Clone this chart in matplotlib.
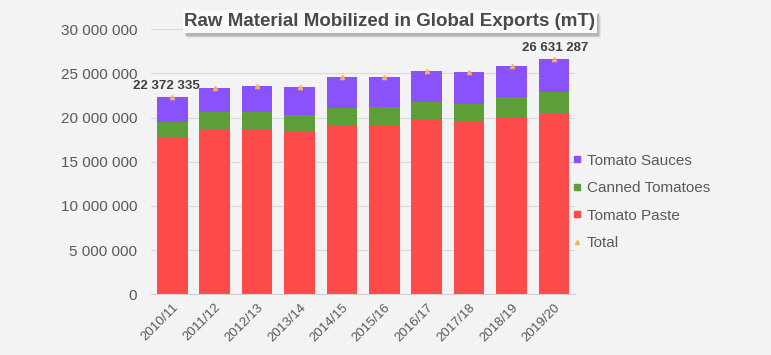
import matplotlib
matplotlib.use("Agg")
import matplotlib.pyplot as plt
from matplotlib.patches import Rectangle
from matplotlib.lines import Line2D
from matplotlib.ticker import FuncFormatter
import numpy as np

seasons = ["2010/11", "2011/12", "2012/13", "2013/14", "2014/15",
           "2015/16", "2016/17", "2017/18", "2018/19", "2019/20"]
paste = [17_830_000, 18_700_000, 18_700_000, 18_400_000, 19_190_000,
         19_040_000, 19_720_000, 19_460_000, 20_100_000, 20_550_000]
canned = [1_630_000, 1_890_000, 1_890_000, 1_890_000, 1_930_000,
          2_120_000, 2_080_000, 2_110_000, 2_230_000, 2_310_000]
sauces = [2_912_335, 2_720_000, 2_980_000, 3_140_000, 3_470_000,
          3_430_000, 3_470_000, 3_590_000, 3_480_000, 3_771_287]
labelled = [0, 9]  # seasons whose total is written above the bar

RED = "#fd4a4a"
GREEN = "#5e9e38"
PURPLE = "#8a52fa"
GOLD = "#f2b45a"
GREY = "#595959"
BG = "#f3f3f3"

plt.rcParams["font.family"] = ["Liberation Sans", "DejaVu Sans"]

paste = np.array(paste)
canned = np.array(canned)
sauces = np.array(sauces)
total = paste + canned + sauces
x = np.arange(len(seasons))

fig = plt.figure(figsize=(7.71, 3.55), dpi=100, facecolor=BG)
ax = fig.add_axes([0.196, 0.171, 0.55, 0.747])
ax.set_facecolor(BG)

w = 0.72
ax.bar(x, paste, w, color=RED, zorder=2)
ax.bar(x, canned, w, bottom=paste, color=GREEN, zorder=2)
ax.bar(x, sauces, w, bottom=paste + canned, color=PURPLE, zorder=2)
ax.plot(x, total, ls="none", marker="^", ms=3, color=GOLD, zorder=3)

for i in labelled:
    dx = -4 if i == 0 else 1
    ax.annotate(f"{total[i]:,}".replace(",", " "), (x[i], total[i]),
                xytext=(dx, 3.5), textcoords="offset points",
                ha="center", va="bottom", fontsize=9.5,
                fontweight="bold", color="#404040")

ax.set_xlim(-0.5, len(seasons) - 0.5)
ax.set_ylim(0, 30_000_000)
ax.set_yticks(np.arange(0, 30_000_001, 5_000_000))
ax.yaxis.set_major_formatter(FuncFormatter(lambda v, p: f"{int(v):,}".replace(",", " ")))
ax.set_xticks(x)
ax.set_xticklabels(seasons, rotation=45, ha="right", rotation_mode="anchor")
ax.tick_params(axis="y", length=0, labelsize=11, colors=GREY, pad=10)
ax.tick_params(axis="x", length=0, labelsize=9.5, colors=GREY, pad=5)
ax.grid(axis="y", color="#d9d9d9", lw=0.8, zorder=0)
for s in ["top", "right", "left"]:
    ax.spines[s].set_visible(False)
ax.spines["bottom"].set_color("#d0d0d0")

handles = [
    Line2D([], [], ls="none", marker="s", ms=5, color=PURPLE),
    Line2D([], [], ls="none", marker="s", ms=5, color=GREEN),
    Line2D([], [], ls="none", marker="s", ms=5, color=RED),
    Line2D([], [], ls="none", marker="^", ms=3, color=GOLD),
]
names = ["Tomato Sauces", "Canned Tomatoes", "Tomato Paste", "Total"]
leg = fig.legend(handles, names, loc="center left", bbox_to_anchor=(0.735, 0.431),
                 frameon=False, fontsize=11, handlelength=0.6, handletextpad=0.3,
                 labelspacing=0.88, borderaxespad=0)
for t in leg.get_texts():
    t.set_color(GREY)

# title box with a soft drop shadow
for k, a in enumerate([0.10, 0.18, 0.28]):
    off = (4 - k) / 771
    fig.patches.append(Rectangle((0.237 + off, 0.907 - (5 - k) / 355), 0.537, 0.065,
                                 transform=fig.transFigure, facecolor="#707070",
                                 edgecolor="none", alpha=a, zorder=4))
fig.patches.append(Rectangle((0.237, 0.907), 0.537, 0.065, transform=fig.transFigure,
                             facecolor="#fafafa", edgecolor="none", zorder=5))
fig.text(0.505, 0.939, "Raw Material Mobilized in Global Exports (mT)",
         ha="center", va="center", fontsize=13.5, fontweight="bold",
         color="#4a4a4a", zorder=6)

fig.savefig("out.png", dpi=100, facecolor=BG)
